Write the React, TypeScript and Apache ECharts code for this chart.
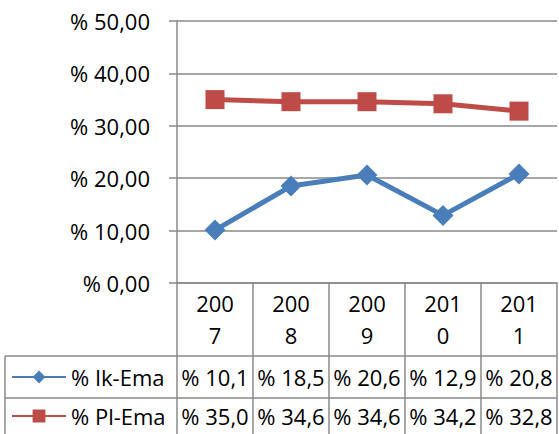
import React, { useEffect, useRef } from "react";
import * as echarts from "echarts";

const categories = ["2007", "2008", "2009", "2010", "2011"];
const seriesNames = ["% Ik-Ema", "% Pl-Ema"];
const ikEma = [10.1, 18.5, 20.6, 12.9, 20.8];
const plEma = [35.0, 34.6, 34.6, 34.2, 32.8];
const yMin = 0;
const yMax = 50;
const yStep = 10;

const FONT = "Open Sans";
const FS = 22;
const GRAY = "#8a8a8a";
const BLUE = "#4A7EBB";
const RED = "#BE4B48";

const fmtAxis = (v: number) => "% " + v.toFixed(2).replace(".", ",");
const fmtCell = (v: number) => "% " + v.toFixed(1).replace(".", ",");

export default function App() {
  const ref = useRef<HTMLDivElement>(null);
  useEffect(() => {
    if (!ref.current) return;
    const chart = echarts.init(ref.current, null, { renderer: "svg" });
    const gridLeft = 177;
    const gridRight = 2;
    const gridTop = 21;
    const gridBottom = 151;
    const rowTops = [356, 398];
    const rowCenters = [377, 416];
    const legendBase = {
      orient: "horizontal",
      left: 6,
      itemWidth: 54,
      itemHeight: 16,
      selectedMode: false,
      textStyle: { fontFamily: FONT, fontSize: FS, lineHeight: 22, color: "#000" },
    };
    chart.setOption({
      animation: false,
      backgroundColor: "#ffffff",
      grid: { left: gridLeft, right: gridRight, top: gridTop, bottom: gridBottom },
      legend: seriesNames.map((n, r) => ({
        ...legendBase,
        top: rowCenters[r] - 16,
        data: [n],
      })),
      xAxis: {
        type: "category",
        data: categories,
        boundaryGap: true,
        axisLine: { show: true, lineStyle: { color: GRAY, width: 1.5 } },
        axisTick: { show: true, length: 73, inside: false, lineStyle: { color: GRAY, width: 1.5 } },
        axisLabel: {
          interval: 0,
          margin: 4,
          fontFamily: FONT,
          fontSize: FS,
          lineHeight: 32,
          color: "#000",
          formatter: (v: string) => v.slice(0, 3) + "\n" + v.slice(3),
        },
        splitLine: { show: false },
      },
      yAxis: {
        type: "value",
        min: yMin,
        max: yMax,
        interval: yStep,
        axisLine: { show: true, lineStyle: { color: GRAY, width: 1.5 } },
        axisTick: { show: true, length: 8, lineStyle: { color: GRAY, width: 1.5 } },
        axisLabel: {
          margin: 27,
          fontFamily: FONT,
          fontSize: FS,
          color: "#000",
          formatter: fmtAxis,
        },
        splitLine: { show: true, lineStyle: { color: GRAY, width: 1.5 } },
      },
      series: [
        {
          name: seriesNames[0],
          type: "line",
          data: ikEma,
          symbol: "diamond",
          symbolSize: 21,
          itemStyle: { color: BLUE },
          lineStyle: { color: BLUE, width: 5 },
        },
        {
          name: seriesNames[1],
          type: "line",
          data: plEma,
          symbol: "rect",
          symbolSize: 19,
          itemStyle: { color: RED },
          lineStyle: { color: RED, width: 5 },
        },
      ],
    });

    // Data table below the category axis
    const c0 = chart.convertToPixel({ xAxisIndex: 0 }, 0) as number;
    const c1 = chart.convertToPixel({ xAxisIndex: 0 }, 1) as number;
    const band = c1 - c0;
    const bounds = categories.map((_, i) => c0 - band / 2 + i * band);
    bounds.push(c0 - band / 2 + categories.length * band);
    const tableLeft = 5;
    const tableBottom = 434;
    const lineStyle = { stroke: GRAY, lineWidth: 1.5 };
    const els: any[] = [];
    rowTops.forEach((y) => {
      els.push({
        type: "line",
        shape: { x1: tableLeft, y1: y, x2: bounds[bounds.length - 1], y2: y },
        style: lineStyle,
        silent: true,
      });
    });
    [tableLeft, ...bounds].forEach((x) => {
      els.push({
        type: "line",
        shape: { x1: x, y1: rowTops[0], x2: x, y2: tableBottom },
        style: lineStyle,
        silent: true,
      });
    });
    [ikEma, plEma].forEach((vals, r) => {
      vals.forEach((v, i) => {
        els.push({
          type: "text",
          silent: true,
          style: {
            text: fmtCell(v),
            x: (bounds[i] + bounds[i + 1]) / 2,
            y: rowCenters[r],
            textAlign: "center",
            textVerticalAlign: "middle",
            fontFamily: FONT,
            fontSize: FS,
            fill: "#000",
          },
        });
      });
    });
    chart.setOption({ graphic: els });

    return () => chart.dispose();
  }, []);
  return (
    <div
      ref={ref}
      style={{ position: "fixed", left: 0, top: 0, width: 559, height: 434 }}
    />
  );
}
